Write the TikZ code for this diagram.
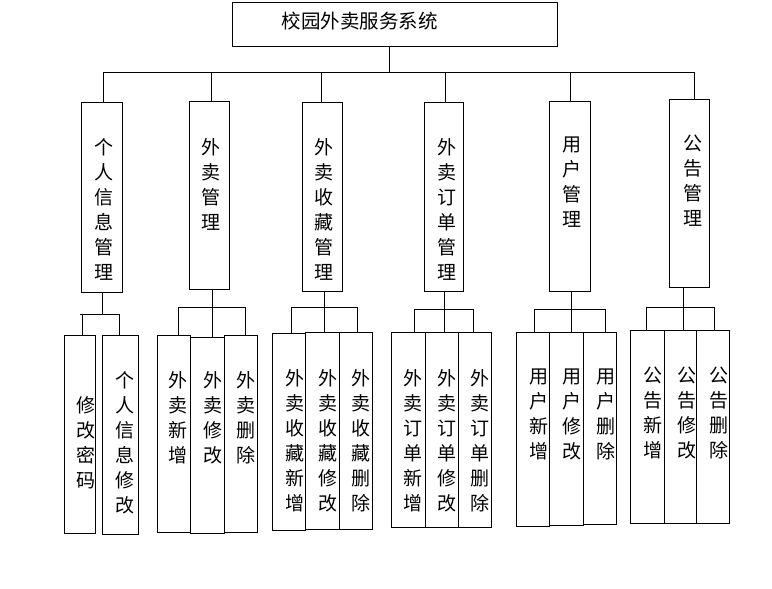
\documentclass[tikz,border=0pt]{standalone}
\usepackage{fontspec}
\setmainfont{Noto Sans CJK SC}
\newcommand\bx[5]{\node[mybox, minimum width={(#4-#2)*1pt}, minimum height={(#5-#3)*1pt}] (#1) at ({(#2+#4)/2},{(#3+#5)/2}) {};}
\newcommand\vt[4]{\node[txt, anchor=north] (#1) at (#2,{#3-8.5}) {#4};}
\begin{document}
\begin{tikzpicture}[x=1pt,y=-1pt,
  mybox/.style={draw, line width=1pt, inner sep=0pt, outer sep=0pt},
  txt/.style={inner sep=0pt, align=center, font=\fontsize{19}{25}\selectfont},
  ln/.style={line width=1pt}]
\useasboundingbox (0,0) rectangle (772,589);
\fill[white] (0,0) rectangle (772,589);
% root
\bx{r}{232.5}{2}{557}{46}
\node[inner sep=0pt, font=\fontsize{19.5}{24}\selectfont] (rt) at (359.5,21) {校园外卖服务系统};
% level 1 boxes
\bx{a1}{81}{102}{122}{292}
\bx{a2}{189}{101}{229}{289}
\bx{a3}{302}{102}{342}{291}
\bx{a4}{424}{102}{463}{291}
\bx{a5}{549}{101}{590}{291}
\bx{a6}{669}{99}{709}{287}
\vt{t1}{104}{147}{个\\人\\信\\息\\管\\理}
\vt{t2}{210.7}{147}{外\\卖\\管\\理}
\vt{t3}{324}{147}{外\\卖\\收\\藏\\管\\理}
\vt{t4}{446.7}{147}{外\\卖\\订\\单\\管\\理}
\vt{t5}{571.7}{145}{用\\户\\管\\理}
\vt{t6}{692.7}{143}{公\\告\\管\\理}
% level 1 connectors
\coordinate (bar) at (389,72);
\coordinate (barL) at (103.4,72);
\coordinate (barR) at (694.6,72);
\draw[ln] (r.south -| bar) -- (bar);
\draw[ln] (barL) -- (barR);
\coordinate (d1) at (103.4,72);
\coordinate (d2) at (211.8,72);
\coordinate (d3) at (321.7,72);
\coordinate (d4) at (445.8,72);
\coordinate (d5) at (570.4,72);
\coordinate (d6) at (694.6,72);
\foreach \i in {1,...,6}{\draw[ln] (d\i) -- (d\i |- a\i.north);}
% level 2 boxes
\bx{b11}{64.3}{335}{95.3}{533}
\bx{b12}{102.3}{335}{138.3}{534}
\bx{b21}{157.3}{335}{190.3}{532}
\bx{b22}{190.3}{337}{224}{533}
\bx{b23}{224}{335}{257.3}{532}
\bx{b31}{272.3}{333}{305.7}{530}
\bx{b32}{305.7}{332}{339.3}{529}
\bx{b33}{339.3}{332}{372.3}{529}
\bx{b41}{391.7}{332}{425.7}{527}
\bx{b42}{425.7}{332}{458.7}{527}
\bx{b43}{458.7}{332}{491.3}{527}
\bx{b51}{516.3}{332}{549.7}{526.7}
\bx{b52}{549.7}{332}{583.3}{525.7}
\bx{b53}{583.3}{332}{616.3}{524.3}
\bx{b61}{630.3}{330.3}{664.3}{523.3}
\bx{b62}{664.3}{330.3}{696.7}{523.3}
\bx{b63}{696.7}{330.3}{729.3}{523.3}
% level 2 texts
\vt{u11}{86}{405}{修\\改\\密\\码}
\vt{u12}{125}{380}{个\\人\\信\\息\\修\\改}
\vt{u21}{178}{380}{外\\卖\\新\\增}
\vt{u22}{213}{380}{外\\卖\\修\\改}
\vt{u23}{246}{380}{外\\卖\\删\\除}
\vt{u31}{295}{378}{外\\卖\\收\\藏\\新\\增}
\vt{u32}{328}{378}{外\\卖\\收\\藏\\修\\改}
\vt{u33}{361}{378}{外\\卖\\收\\藏\\删\\除}
\vt{u41}{413}{378}{外\\卖\\订\\单\\新\\增}
\vt{u42}{447}{378}{外\\卖\\订\\单\\修\\改}
\vt{u43}{480}{378}{外\\卖\\订\\单\\删\\除}
\vt{u51}{539}{376.7}{用\\户\\新\\增}
\vt{u52}{571.7}{376.7}{用\\户\\修\\改}
\vt{u53}{606}{376.7}{用\\户\\删\\除}
\vt{u61}{653.3}{375}{公\\告\\新\\增}
\vt{u62}{686.7}{375}{公\\告\\修\\改}
\vt{u63}{719.3}{375}{公\\告\\删\\除}
% level 2 connectors
% group 1
\coordinate (p1) at (102.3,314);
\coordinate (g1L) at (80.3,314);
\coordinate (g1R) at (119.3,314);
\coordinate (e11) at (82.3,314);
\draw[ln] (p1 |- a1.south) -- (p1);
\draw[ln] (g1L) -- (g1R);
\draw[ln] (e11) -- (e11 |- b11.north);
\draw[ln] (g1R) -- (g1R |- b12.north);
% group 2
\coordinate (p2) at (212.7,307);
\coordinate (g2L) at (178,307);
\coordinate (g2R) at (245,307);
\draw[ln] (p2 |- a2.south) -- (p2);
\draw[ln] (g2L) -- (g2R);
\draw[ln] (g2L) -- (g2L |- b21.north);
\draw[ln] (p2) -- (p2 |- b22.north);
\draw[ln] (g2R) -- (g2R |- b23.north);
% group 3
\coordinate (p3) at (324.3,307);
\coordinate (g3L) at (291.7,307);
\coordinate (g3R) at (357.3,307);
\draw[ln] (p3 |- a3.south) -- (p3);
\draw[ln] (g3L) -- (g3R);
\draw[ln] (g3L) -- (g3L |- b31.north);
\draw[ln] (p3) -- (p3 |- b32.north);
\draw[ln] (g3R) -- (g3R |- b33.north);
% group 4
\coordinate (p4) at (444.3,309);
\coordinate (g4L) at (414.3,309);
\coordinate (g4R) at (473.3,309);
\draw[ln] (p4 |- a4.south) -- (p4);
\draw[ln] (g4L) -- (g4R);
\draw[ln] (g4L) -- (g4L |- b41.north);
\draw[ln] (p4) -- (p4 |- b42.north);
\draw[ln] (g4R) -- (g4R |- b43.north);
% group 5
\coordinate (p5) at (571.3,309);
\coordinate (g5L) at (534.3,309);
\coordinate (g5R) at (605.3,309);
\draw[ln] (p5 |- a5.south) -- (p5);
\draw[ln] (g5L) -- (g5R);
\draw[ln] (g5L) -- (g5L |- b51.north);
\draw[ln] (p5) -- (p5 |- b52.north);
\draw[ln] (g5R) -- (g5R |- b53.north);
% group 6
\coordinate (p6) at (683,307.3);
\coordinate (g6L) at (646.7,307.3);
\coordinate (g6R) at (714.3,307.3);
\draw[ln] (p6 |- a6.south) -- (p6);
\draw[ln] (g6L) -- (g6R);
\draw[ln] (g6L) -- (g6L |- b61.north);
\draw[ln] (p6) -- (p6 |- b62.north);
\draw[ln] (g6R) -- (g6R |- b63.north);
\end{tikzpicture}
\end{document}
